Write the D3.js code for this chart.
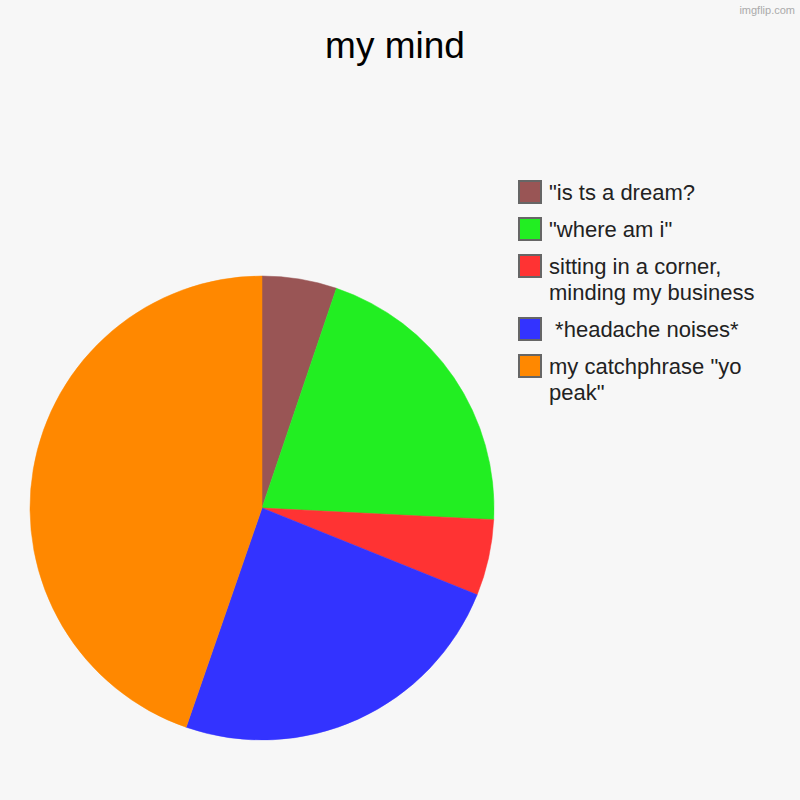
<!DOCTYPE html>
<html>
<head>
<meta charset="utf-8">
<script src="https://cdn.jsdelivr.net/npm/d3@7"></script>
<style>
	html, body { margin: 0; padding: 0; background: #f7f7f7; }
	svg text { font-family: Arial, "Liberation Sans", sans-serif; white-space: pre; }
</style>
</head>
<body>
<div id="chart"></div>
<script>
//slices, clockwise from 12 o'clock
const categories = ['"is ts a dream?', '"where am i"', 'sitting in a corner, minding my business', ' *headache noises*', 'my catchphrase "yo peak"'];
const values = [5.2, 20.6, 5.3, 24.2, 44.7];
const colors = ['#995555', '#22ee22', '#ff3333', '#3333ff', '#ff8800'];
const title = 'my mind';

//size of the canvas
const CANVAS = { w: 800, h: 800 };
//pie placement
const PIE = { cx: 262, cy: 508, r: 232 };
//legend placement
const LEGEND = { x: 519, y: 181, box: 22, rowGap: 37, lineGap: 26, textX: 549, maxW: 235 };

const svg = d3.select('#chart')
	.append('svg')
	.attr('width', CANVAS.w)
	.attr('height', CANVAS.h)
	.attr('viewBox', `0 0 ${CANVAS.w} ${CANVAS.h}`);

svg.append('rect')
	.attr('width', CANVAS.w)
	.attr('height', CANVAS.h)
	.attr('fill', '#f7f7f7');

svg.append('text')
	.attr('x', 395)
	.attr('y', 58)
	.attr('text-anchor', 'middle')
	.attr('font-size', 37)
	.attr('fill', '#000')
	.text(title);

svg.append('text')
	.attr('x', 795)
	.attr('y', 14)
	.attr('text-anchor', 'end')
	.attr('font-size', 11)
	.attr('fill', '#aaa')
	.text('imgflip.com');

const color = d3.scaleOrdinal().domain(categories).range(colors);

const pie = d3.pie()
	.sort(null)
	.value(d => d.val);

const arc = d3.arc()
	.innerRadius(0)
	.outerRadius(PIE.r);

const data = categories.map((name, i) => ({ name, val: values[i] }));

svg.append('g')
	.attr('class', 'shapes')
	.attr('transform', `translate(${PIE.cx},${PIE.cy})`)
	.selectAll('path')
	.data(pie(data))
	.join('path')
	.attr('d', arc)
	.attr('fill', d => color(d.data.name))
	.attr('stroke', d => color(d.data.name))
	.attr('stroke-width', 0.5);

//legend, wrapping long labels
const gLegend = svg.append('g').attr('class', 'legend');
let rowY = LEGEND.y;

data.forEach(d => {
	const g = gLegend.append('g');
	g.append('rect')
		.attr('x', LEGEND.x)
		.attr('y', rowY)
		.attr('width', LEGEND.box)
		.attr('height', LEGEND.box)
		.attr('fill', color(d.name))
		.attr('stroke', '#666')
		.attr('stroke-width', 2);

	const txt = g.append('text')
		.attr('x', LEGEND.textX)
		.attr('y', rowY + 19)
		.attr('font-size', 22)
		.attr('fill', '#222');

	const words = d.name.split(' ');
	let line = '';
	let lines = 0;
	let tspan = txt.append('tspan').attr('x', LEGEND.textX).attr('dy', 0);
	words.forEach((w, i) => {
		const test = i === 0 ? w : line + ' ' + w;
		tspan.text(test);
		if (tspan.node().getComputedTextLength() > LEGEND.maxW && line.trim() !== '') {
			tspan.text(line);
			line = w;
			lines++;
			tspan = txt.append('tspan').attr('x', LEGEND.textX).attr('dy', LEGEND.lineGap).text(w);
		} else {
			line = test;
		}
	});

	rowY += LEGEND.rowGap + lines * LEGEND.lineGap;
});
</script>
</body>
</html>
